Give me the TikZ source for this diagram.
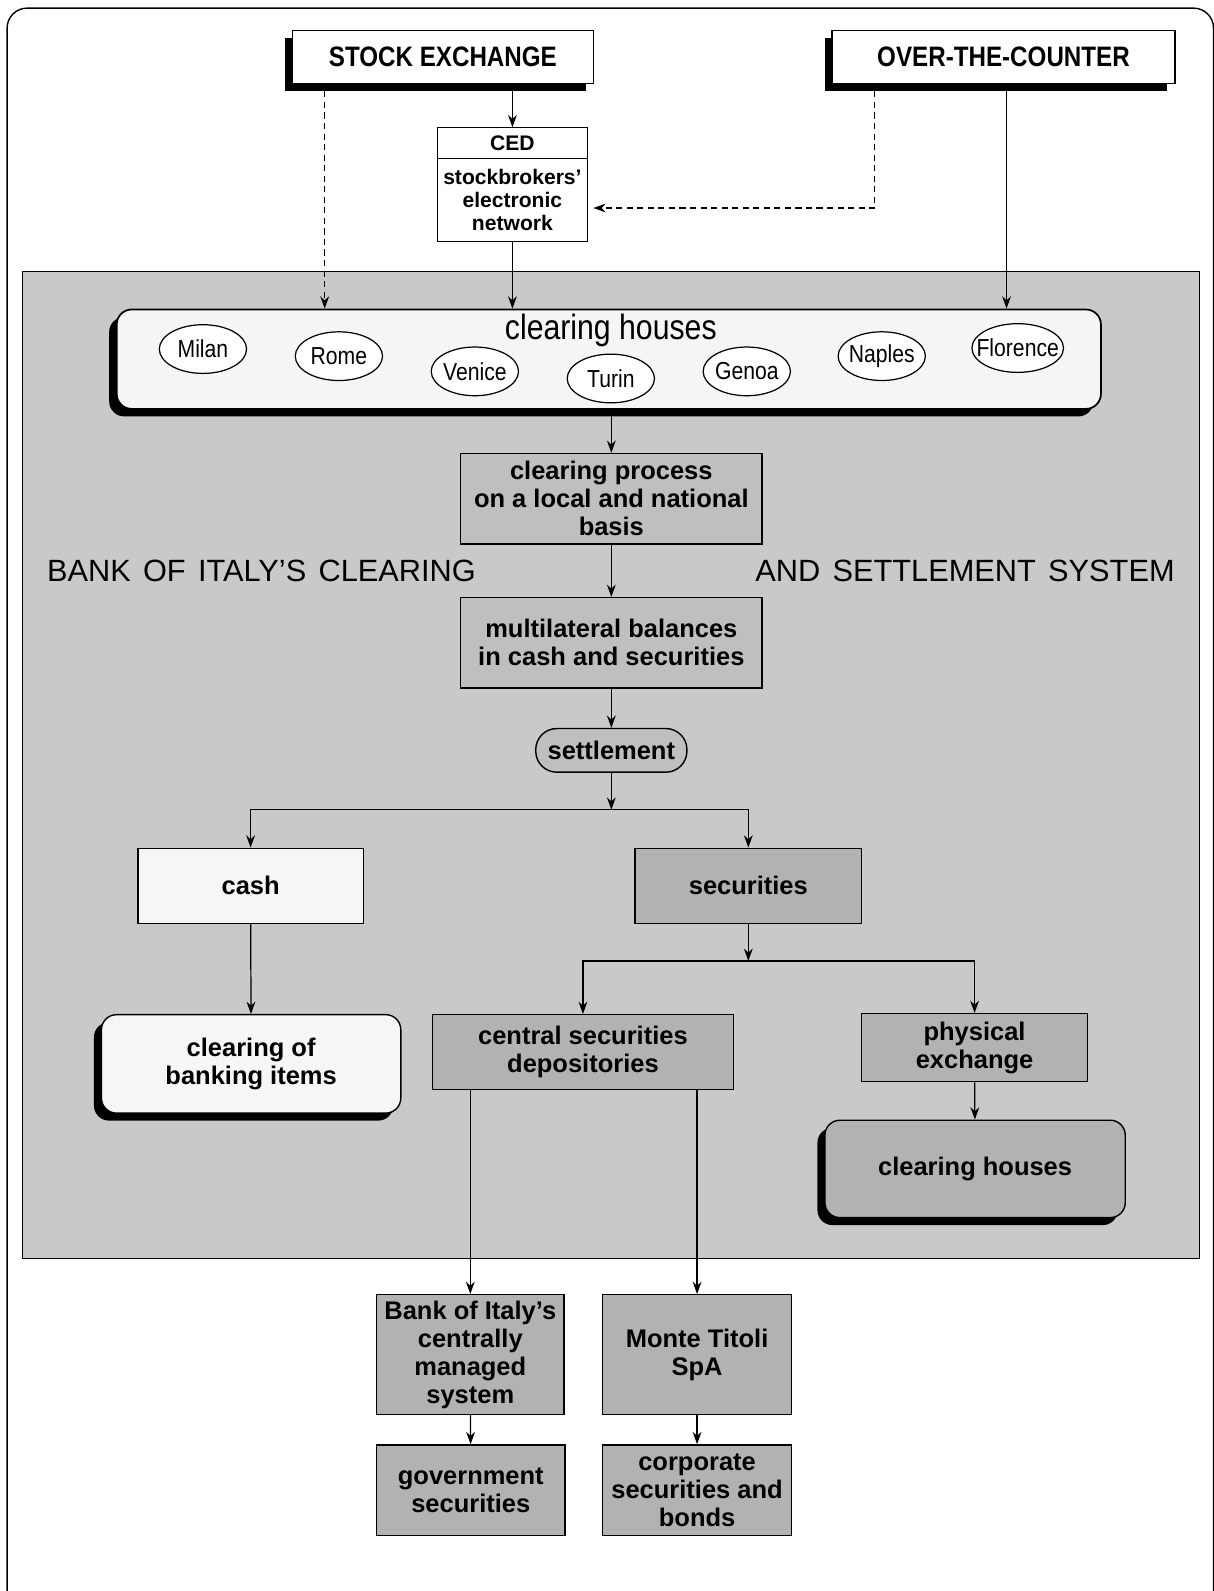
\documentclass[tikz,border=0pt]{standalone}
\usepackage{fontspec}
\setmainfont{Liberation Sans}
\newfontfamily\narrowfont[FakeStretch=0.86]{Liberation Sans}
\usetikzlibrary{arrows.meta,shadows,shapes.geometric}
\newcommand\pxu{0.0203cm}

\begin{document}
\begin{tikzpicture}[x=0.0203cm, y=-0.0203cm,
    arrow/.style={-{Stealth[length=7pt,width=5pt]}, line width=0.7pt},
    dasharrow/.style={arrow, dash pattern=on 3.5pt off 2.5pt},
    shadowed/.style={drop shadow={shadow xshift=-0.15cm, shadow yshift=-0.15cm, fill=black, opacity=1}},
    topbox/.style={rectangle, draw, fill=white, line width=0.8pt, shadowed,
        minimum height=52*\pxu, font=\narrowfont\bfseries\fontsize{16}{18}\selectfont},
    cedbox/.style={rectangle, draw, fill=white, line width=0.7pt, minimum width=148*\pxu,
        inner sep=1pt, align=center, font=\bfseries\fontsize{12}{13.3}\selectfont},
    city/.style={ellipse, draw, fill=white, line width=0.7pt, minimum width=86*\pxu,
        minimum height=48*\pxu, inner xsep=-5pt, inner ysep=1pt,
        font=\narrowfont\fontsize{14}{16}\selectfont},
    box/.style={rectangle, draw, line width=0.8pt, align=center,
        font=\bfseries\fontsize{14.5}{16}\selectfont},
    lightbox/.style={box, fill=gray!7},
    graybox/.style={box, fill=gray!50},
    darkbox/.style={box, fill=gray!60},
    banklabel/.style={inner sep=0pt, font={\fontsize{17.5}{20}\selectfont\spaceskip=7pt\relax}}
  ]
  \useasboundingbox (0,0) rectangle (1196,1568);

  % frame and shaded area
  \draw[line width=0.8pt, rounded corners=0.4cm] (7,8) rectangle (1196,1640);
  \draw[line width=0.6pt, fill=gray!42] (22,268) rectangle (1182,1240);

  % markets
  \node[topbox, minimum width=297*\pxu] (stock) at (436.5,56) {STOCK EXCHANGE};
  \node[topbox, minimum width=338*\pxu] (otc)   at (989,56)   {OVER-THE-COUNTER};
  \node[cedbox, minimum height=30*\pxu] (cedhead) at (505,141) {CED};
  \node[cedbox, minimum height=82*\pxu] (cedbody) at (505,197) {stockbrokers’\\electronic\\network};

  % clearing houses
  \node[rectangle, draw, fill=gray!8, line width=1pt, rounded corners=0.3cm, shadowed,
        minimum width=970*\pxu, minimum height=98*\pxu] (band) at (600,354) {};
  \node[font=\narrowfont\fontsize{20}{22}\selectfont] (chtitle) at (602,326) {clearing houses};
  \foreach \name/\xx/\yy in {Milan/200/344, Rome/334/351, Venice/468/366, Turin/602/373,
                            Genoa/736/366, Naples/869/351, Florence/1003/343}
    \node[city] (\name) at (\xx,\yy) {\name};

  \node[graybox, minimum width=297*\pxu, minimum height=89*\pxu] (proc) at (602.5,491.5)
        {clearing process\\on a local and national\\basis};
  \node[graybox, minimum width=297*\pxu, minimum height=89*\pxu] (multi) at (602.5,633.5)
        {multilateral balances\\in cash and securities};
  \node[graybox, rounded corners=0.42cm, minimum width=149*\pxu, minimum height=43*\pxu]
        (settle) at (602.5,739.5) {settlement};

  \node[banklabel, anchor=west] (bankl) at (46,563)   {BANK OF ITALY’S CLEARING};
  \node[banklabel, anchor=east] (bankr) at (1158,563) {AND SETTLEMENT SYSTEM};

  % settlement branches
  \node[lightbox, minimum width=222*\pxu, minimum height=74*\pxu] (cash) at (247,873) {cash};
  \node[darkbox, minimum width=223*\pxu, minimum height=74*\pxu] (sec) at (737.5,873) {securities};
  \node[lightbox, rounded corners=0.3cm, shadowed, minimum width=295*\pxu, minimum height=97*\pxu]
        (banking) at (247.5,1048.5) {clearing of\\banking items};
  \node[darkbox, minimum width=297*\pxu, minimum height=74*\pxu] (csd) at (574.5,1037)
        {central securities\\depositories};
  \node[darkbox, minimum width=223*\pxu, minimum height=67*\pxu] (phys) at (960.5,1032.5)
        {physical\\exchange};
  \node[darkbox, rounded corners=0.3cm, shadowed, minimum width=296*\pxu, minimum height=96*\pxu]
        (chouses) at (961,1152) {clearing houses};

  \node[darkbox, minimum width=185*\pxu, minimum height=118*\pxu] (boi) at (463.5,1335)
        {Bank of Italy’s\\centrally\\managed\\system};
  \node[darkbox, minimum width=186*\pxu, minimum height=118*\pxu] (monte) at (687,1335)
        {Monte Titoli\\SpA};
  \node[darkbox, minimum width=186*\pxu, minimum height=89*\pxu] (gov) at (464,1468.5)
        {government\\securities};
  \node[darkbox, minimum width=186*\pxu, minimum height=89*\pxu] (corp) at (687,1468.5)
        {corporate\\securities and\\bonds};

  % connectors
  \coordinate (sedash)  at (320,90);
  \coordinate (otcdash) at (862,90);
  \coordinate (otcline) at (992,82);
  \coordinate (split1)  at (602.5,798);
  \coordinate (split2)  at (737.5,947);

  \draw[arrow] (cedhead.north |- stock.south) -- (cedhead.north);
  \draw[dasharrow] (sedash) -- (sedash |- band.north);
  \draw[dasharrow, shorten >=3pt] (otcdash) |- ([yshift=-8*\pxu]cedbody.east);
  \draw[arrow] (otcline) -- (otcline |- band.north);
  \draw[arrow] (cedbody.south) -- (cedbody.south |- band.north);
  \draw[arrow] (proc.north |- band.south) -- (proc.north);
  \draw[arrow] (proc) -- (multi);
  \draw[arrow] (multi) -- (settle);
  \draw[arrow] (settle) -- (split1);
  \draw[arrow] (split1) -| (cash);
  \draw[arrow] (split1) -| (sec);
  \draw[arrow] (cash) -- (banking);
  \draw[arrow] (sec) -- (split2);
  \draw[arrow] (split2) -| (csd);
  \draw[arrow] (split2) -| (phys);
  \draw[arrow] (phys) -- (chouses);
  \draw[arrow] (boi.north |- csd.south) -- (boi.north);
  \draw[arrow] (monte.north |- csd.south) -- (monte.north);
  \draw[arrow] (boi) -- (gov);
  \draw[arrow] (monte) -- (corp);
\end{tikzpicture}
\end{document}
